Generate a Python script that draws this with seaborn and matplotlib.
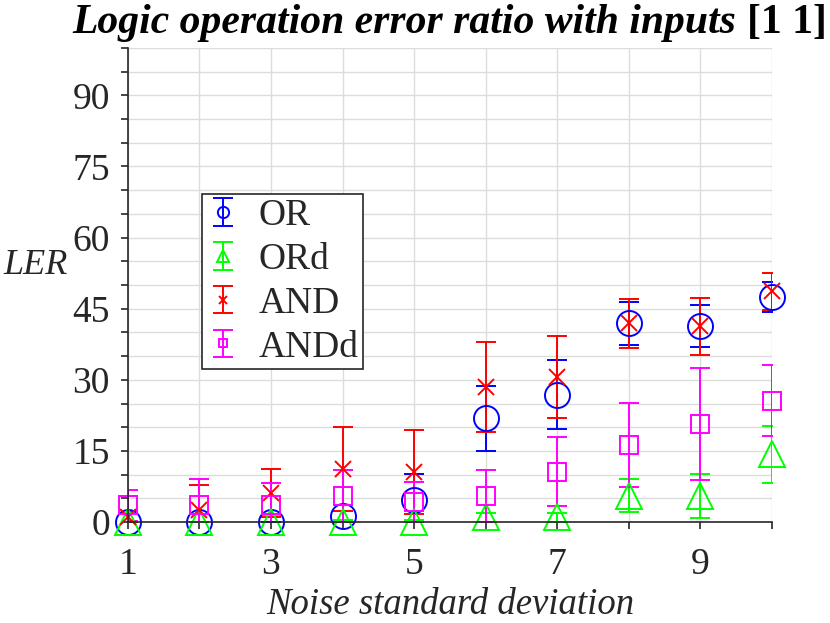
import numpy as np
import pandas as pd
import matplotlib
matplotlib.use("Agg")
import matplotlib.pyplot as plt
from matplotlib.ticker import MultipleLocator
from matplotlib.legend_handler import HandlerErrorbar
from matplotlib.container import ErrorbarContainer
import seaborn as sns

# ── Data ─────────────────────────────────────────────────────────────────────
noise_sd = [1, 2, 3, 4, 5, 6, 7, 8, 9, 10]

or_mean = [0.0, 0.0, 0.0, 1.3, 4.6, 21.9, 26.9, 41.9, 41.3, 47.5]
or_err = [0.0, 0.0, 0.0, 2.2, 5.5, 6.9, 7.3, 4.5, 4.4, 3.2]

ord_mean = [0.0, 0.0, 0.0, 0.0, 0.0, 1.0, 1.0, 5.6, 5.5, 14.3]
ord_err = [0.0, 0.0, 1.5, 0.5, 0.5, 1.0, 1.0, 3.5, 4.6, 6.0]

and_mean = [1.0, 2.5, 6.2, 11.2, 10.6, 28.5, 30.6, 41.9, 41.3, 48.7]
and_err = [1.3, 5.3, 5.1, 8.8, 8.8, 9.4, 8.6, 5.2, 6.0, 3.9]

andd_mean = [3.5, 3.6, 3.6, 5.5, 4.3, 5.5, 10.6, 16.2, 20.7, 25.6]
andd_err = [3.3, 5.4, 4.6, 5.4, 4.2, 5.5, 7.3, 8.9, 11.8, 7.5]

series_names = ["OR", "ORd", "AND", "ANDd"]

df = pd.concat([
    pd.DataFrame({"x": noise_sd, "LER": m, "err": e, "series": s})
    for s, m, e in zip(series_names,
                       [or_mean, ord_mean, and_mean, andd_mean],
                       [or_err, ord_err, and_err, andd_err])
], ignore_index=True)

# ── Style ────────────────────────────────────────────────────────────────────
sns.set_theme(style="whitegrid")
plt.rcParams["font.family"] = ["Liberation Serif", "DejaVu Serif"]

DARK = "#262626"
styles = {
    "OR":   dict(color=(0, 0, 1), marker="o", ms=18),
    "ORd":  dict(color=(0, 1, 0), marker="^", ms=19),
    "AND":  dict(color=(1, 0, 0), marker="x", ms=12),
    "ANDd": dict(color=(1, 0, 1), marker="s", ms=13.5),
}

fig, ax = plt.subplots(figsize=(8.3, 6.23), dpi=100)
fig.subplots_adjust(left=0.154, right=0.930, bottom=0.162, top=0.923)

for name in series_names:
    sub = df[df["series"] == name]
    st = styles[name]
    cont = ax.errorbar(sub["x"], sub["LER"], yerr=sub["err"], fmt=st["marker"],
                       ms=st["ms"], mfc="none", mec=st["color"], mew=1.4,
                       ecolor=st["color"], elinewidth=1.4, capsize=7,
                       capthick=1.4, label=name)
    cont.lines[0].set_clip_on(False)

ax.set_xlim(1, 10)
ax.set_ylim(0, 100)
ax.xaxis.set_minor_locator(MultipleLocator(1))
ax.yaxis.set_major_locator(MultipleLocator(15))
ax.yaxis.set_minor_locator(MultipleLocator(5))
ax.set_xticks([1, 3, 5, 7, 9])

ax.grid(True, which="both", color="#dcdcdc", linewidth=1.0)
ax.set_axisbelow(True)
for side in ["top", "right"]:
    ax.spines[side].set_visible(False)
for side in ["left", "bottom"]:
    ax.spines[side].set_color(DARK)
    ax.spines[side].set_linewidth(1.2)

ax.tick_params(which="both", direction="out", length=5, width=1.2,
               color=DARK, labelcolor=DARK, labelsize=27)
ax.tick_params(axis="x", which="both", bottom=True, pad=13)
ax.tick_params(axis="y", which="both", left=True, pad=8)

ax.set_xlabel("Noise standard deviation", fontsize=26.5, style="italic", color=DARK)
ax.xaxis.set_label_coords(0.5, -0.194)
ax.xaxis.label.set_va("baseline")
ax.set_ylabel("LER", fontsize=26, style="italic", color=DARK, rotation=0)
ax.yaxis.set_label_coords(-0.143, 0.542)
ax.yaxis.label.set_va("center")
ax.yaxis.label.set_ha("center")

leg = ax.legend(loc="upper left", bbox_to_anchor=(0.115, 0.692), borderaxespad=0,
                fontsize=27, frameon=True, fancybox=False, framealpha=1,
                edgecolor=DARK, markerscale=0.45, numpoints=1, handlelength=0.9,
                handletextpad=0.48, labelspacing=0.25, borderpad=0.12,
                handler_map={ErrorbarContainer: HandlerErrorbar(yerr_size=0.37)})
leg.get_frame().set_linewidth(1.2)

# ── Title: bold italic text followed by bold upright "[1 1]" ────────────────
t1 = fig.text(0, 0.963, "Logic operation error ratio with inputs ", fontsize=30,
              weight="bold", style="italic", va="center", ha="left", color="black")
t2 = fig.text(0, 0.963, "[1 1]", fontsize=30, weight="bold", va="center",
              ha="left", color="black")
fig.canvas.draw()
r = fig.canvas.get_renderer()
w1 = t1.get_window_extent(r).width
w2 = t2.get_window_extent(r).width
W = fig.get_figwidth() * fig.dpi
ax_pos = ax.get_position()
center = (ax_pos.x0 + ax_pos.x1) / 2 * W
start = center - (w1 + w2) / 2
t1.set_x(start / W)
t2.set_x((start + w1) / W)

fig.savefig("out.png", dpi=100)
